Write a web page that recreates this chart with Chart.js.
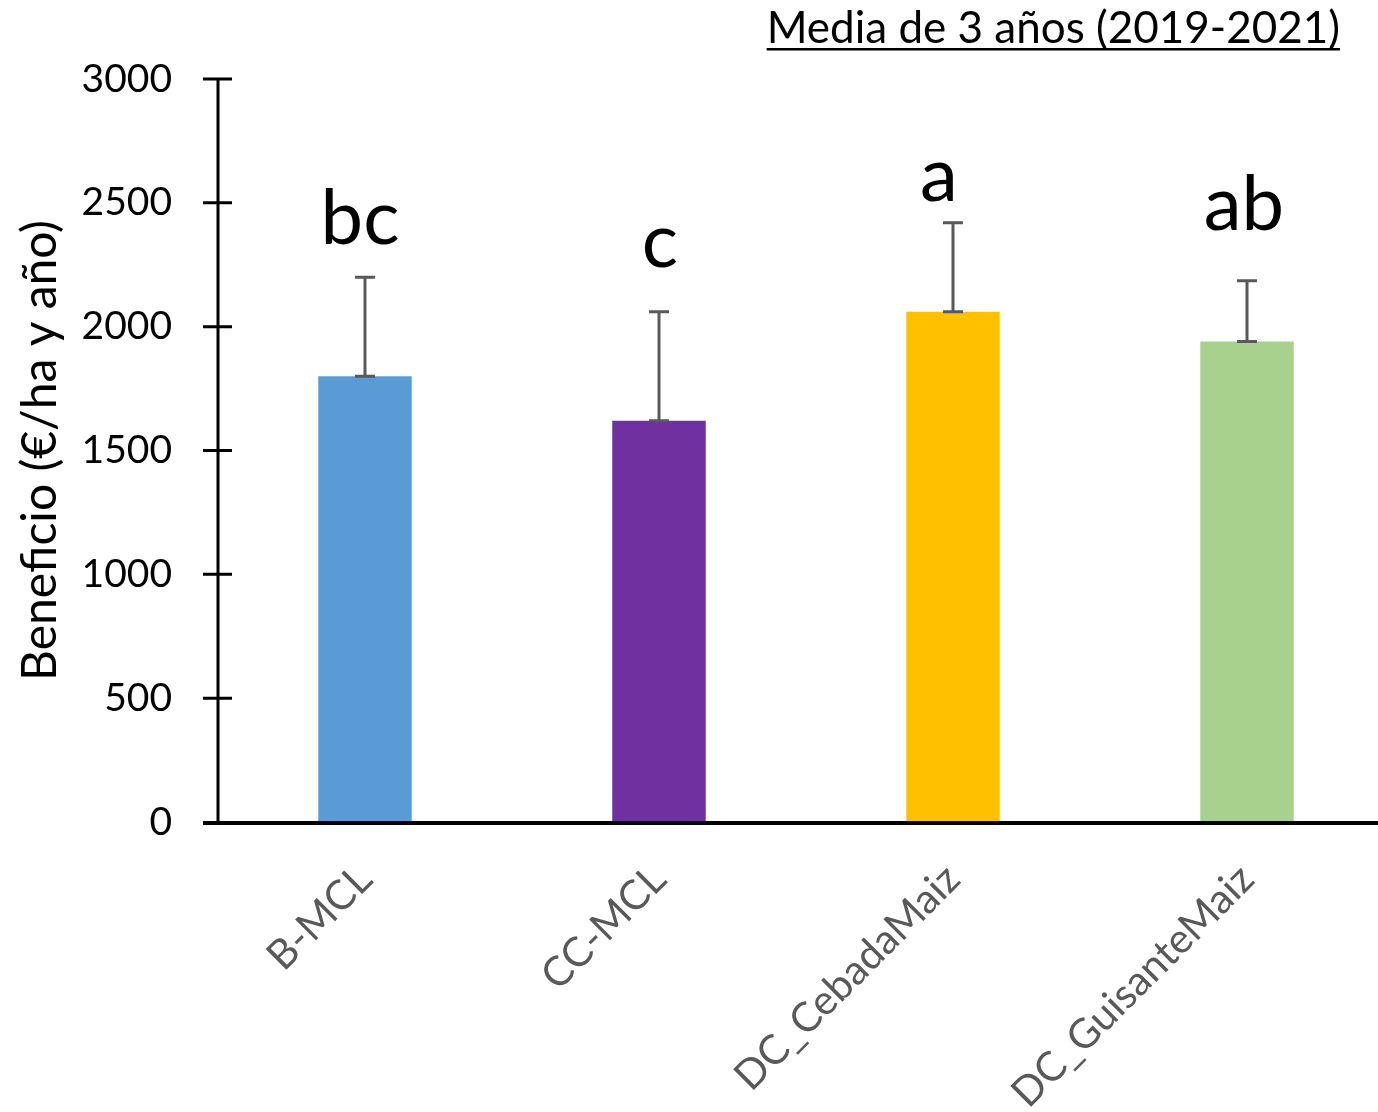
<!DOCTYPE html>
<html>
<head>
<meta charset="utf-8">
<script src="https://cdn.jsdelivr.net/npm/chart.js@4.4.1/dist/chart.umd.min.js"></script>
<style>
  html, body { margin: 0; padding: 0; background: #ffffff; overflow: hidden; }
  #wrap { width: 1378px; height: 1112px; overflow: hidden; }
  canvas { display: block; }
</style>
</head>
<body>
<div id="wrap"><canvas id="chart" width="1420" height="1112"></canvas></div>
<script>
// Profit per treatment, mean of three seasons
const categories = ['B-MCL', 'CC-MCL', 'DC_CebadaMaiz', 'DC_GuisanteMaiz'];
const beneficio = [1800, 1620, 2060, 1940];
const errorPlus = [400, 440, 360, 245];
const letters = ['bc', 'c', 'a', 'ab'];
const yTickValues = [0, 500, 1000, 1500, 2000, 2500, 3000];

const barColors = ['#5B9BD5', '#7030A0', '#FFC000', '#A9D18E'];
const FONT = 'Lato, "Open Sans", sans-serif';

// Upper error whiskers with caps at both ends
const errorBarPlugin = {
  id: 'errorBars',
  afterDatasetsDraw(chart) {
    const { ctx, scales: { y } } = chart;
    const meta = chart.getDatasetMeta(0);
    ctx.save();
    ctx.strokeStyle = '#595959';
    ctx.lineWidth = 3;
    meta.data.forEach((bar, i) => {
      const x = bar.x;
      const yBase = y.getPixelForValue(beneficio[i]);
      const yTop = y.getPixelForValue(beneficio[i] + errorPlus[i]);
      ctx.beginPath();
      ctx.moveTo(x, yBase); ctx.lineTo(x, yTop);
      ctx.moveTo(x - 10, yTop); ctx.lineTo(x + 10, yTop);
      ctx.moveTo(x - 10, yBase); ctx.lineTo(x + 10, yBase);
      ctx.stroke();
    });
    ctx.restore();
  }
};

// Significance letters above each whisker
const lettersPlugin = {
  id: 'sigLetters',
  afterDatasetsDraw(chart, args, opts) {
    const { ctx, scales: { y } } = chart;
    const meta = chart.getDatasetMeta(0);
    ctx.save();
    ctx.fillStyle = '#000000';
    ctx.font = '76px ' + FONT;
    ctx.textAlign = 'center';
    ctx.textBaseline = 'alphabetic';
    meta.data.forEach((bar, i) => {
      const yTop = y.getPixelForValue(beneficio[i] + errorPlus[i]);
      ctx.fillText(letters[i], bar.x + opts.shiftX[i], yTop - opts.lift[i]);
    });
    ctx.restore();
  }
};

// Axis lines with tick marks crossing the vertical axis
const axesPlugin = {
  id: 'axesLines',
  afterDraw(chart) {
    const { ctx, chartArea, scales: { y } } = chart;
    const x0 = chartArea.left;
    const yBottom = y.getPixelForValue(0);
    ctx.save();
    ctx.strokeStyle = '#000000';
    ctx.lineWidth = 3;
    ctx.beginPath();
    ctx.moveTo(x0, y.getPixelForValue(3000) - 1.5);
    ctx.lineTo(x0, yBottom);
    yTickValues.forEach(v => {
      if (v === 0) return;
      const py = y.getPixelForValue(v);
      ctx.moveTo(x0 - 15, py); ctx.lineTo(x0 + 14, py);
    });
    ctx.stroke();
    ctx.lineWidth = 4;
    ctx.beginPath();
    ctx.moveTo(x0 - 15, yBottom + 1);
    ctx.lineTo(chart.width, yBottom + 1);
    ctx.stroke();
    ctx.restore();
  }
};

// Underlined caption in the top-right corner
const captionPlugin = {
  id: 'caption',
  afterDraw(chart, args, opts) {
    const { ctx } = chart;
    ctx.save();
    ctx.font = opts.font;
    ctx.fillStyle = '#000000';
    ctx.textAlign = 'right';
    ctx.textBaseline = 'alphabetic';
    ctx.fillText(opts.text, opts.right, opts.baseline);
    const w = ctx.measureText(opts.text).width;
    ctx.fillRect(opts.right - w, opts.baseline + 5, w, 2.5);
    ctx.restore();
  }
};

new Chart(document.getElementById('chart'), {
  type: 'bar',
  data: {
    labels: categories,
    datasets: [{
      data: beneficio,
      backgroundColor: barColors,
      borderWidth: 0,
      categoryPercentage: 1.0,
      barPercentage: 0.318
    }]
  },
  options: {
    responsive: false,
    animation: false,
    layout: { padding: { top: 79, right: 26, bottom: 0, left: 0 } },
    plugins: {
      legend: { display: false },
      tooltip: { enabled: false },
      sigLetters: { lift: [33, 45, 22, 51], shiftX: [-5, 1, -14, -3] },
      caption: {
        text: 'Media de 3 años (2019-2021)',
        font: '44px ' + FONT,
        right: 1340,
        baseline: 43
      }
    },
    scales: {
      x: {
        type: 'category',
        offset: true,
        grid: { display: false, drawTicks: false },
        border: { display: false },
        ticks: {
          color: '#595959',
          font: { family: FONT, size: 41 },
          minRotation: 45,
          maxRotation: 45,
          padding: 33
        },
        afterFit(scale) { scale.height = 1112 - 822; }
      },
      y: {
        min: 0,
        max: 3000,
        grid: { display: false, drawTicks: false },
        border: { display: false },
        afterBuildTicks(scale) {
          scale.ticks = yTickValues.map(v => ({ value: v }));
        },
        ticks: {
          color: '#000000',
          font: { family: FONT, size: 39 },
          padding: 46,
          callback: v => String(v)
        },
        title: {
          display: true,
          text: 'Beneficio (€/ha y año)',
          color: '#000000',
          font: { family: FONT, size: 48 },
          padding: { top: 12, bottom: 0 }
        },
        afterFit(scale) { scale.width = 218; }
      }
    }
  },
  plugins: [errorBarPlugin, lettersPlugin, axesPlugin, captionPlugin]
});
</script>
</body>
</html>
